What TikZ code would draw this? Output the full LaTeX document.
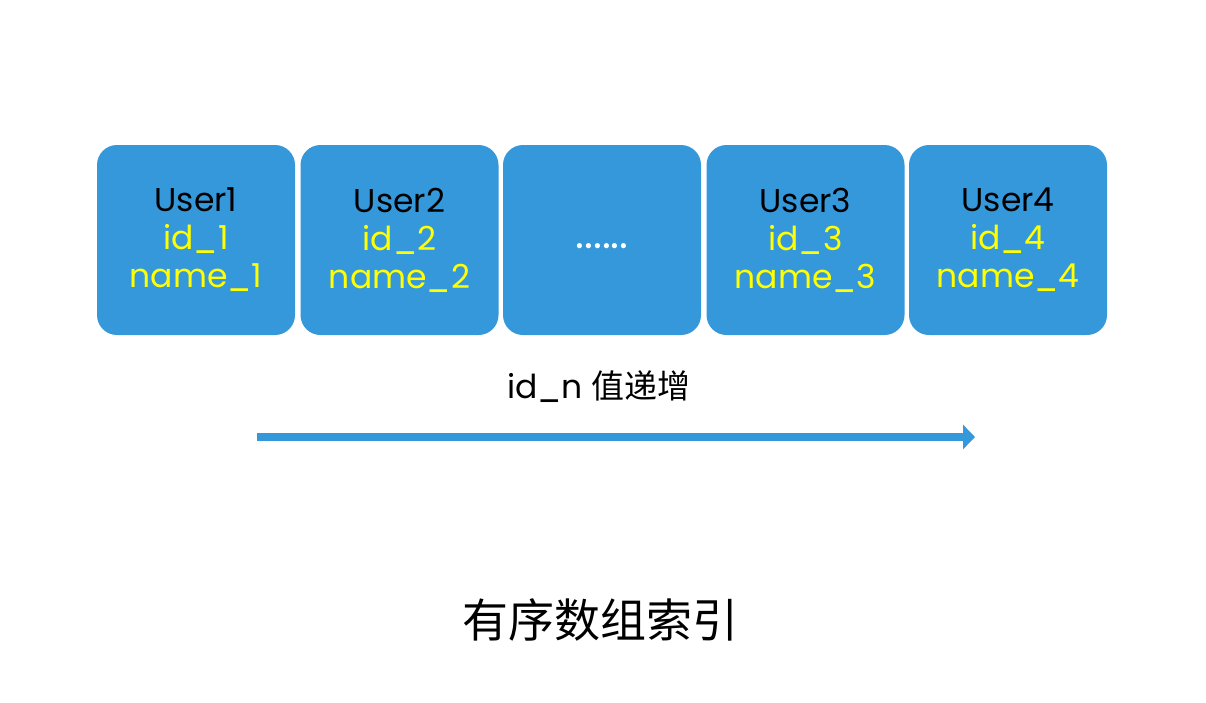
\documentclass[tikz,border=0pt]{standalone}
\usepackage{fontspec}
\setmainfont{Poppins}
\newfontfamily\cjk{Noto Sans CJK SC}
\usetikzlibrary{arrows.meta}
\definecolor{boxblue}{HTML}{3598DB}
\definecolor{txtyellow}{HTML}{FFFF00}
\tikzset{
  cell/.style={fill=boxblue, draw=none, rounded corners=20pt, minimum width=198pt, minimum height=190pt, inner sep=0pt, align=center, font=\fontsize{33}{38}\selectfont}
}
\begin{document}
\begin{tikzpicture}[x=1pt,y=-1pt]
\useasboundingbox (0,0) rectangle (1206,702);
\fill[white] (0,0) rectangle (1206,702);
\node[cell] (u1) at (196,240) {User1\\\textcolor{txtyellow}{id\_1}\\\textcolor{txtyellow}{name\_1}};
\node[cell] (u2) at (399.5,240) {User2\\\textcolor{txtyellow}{id\_2}\\\textcolor{txtyellow}{name\_2}};
\node[cell, text=white, font=\fontsize{42}{46}\selectfont] (ud) at (602,240) {\raisebox{-8pt}[0pt][0pt]{......}};
\node[cell] (u3) at (805.5,240) {User3\\\textcolor{txtyellow}{id\_3}\\\textcolor{txtyellow}{name\_3}};
\node[cell] (u4) at (1008,240) {User4\\\textcolor{txtyellow}{id\_4}\\\textcolor{txtyellow}{name\_4}};
\node[font=\fontsize{33}{38}\selectfont] (lbl) at (599,387) {id\_n {\cjk 值递增}};
\coordinate (a0) at (257,437);
\coordinate (a1) at (975,437);
\draw[boxblue, line width=8pt, -{Triangle[length=12pt,width=24pt]}] (a0) -- (a1);
\node[font=\cjk\fontsize{46}{50}\selectfont] (title) at (600,620) {有序数组索引};
\end{tikzpicture}
\end{document}
